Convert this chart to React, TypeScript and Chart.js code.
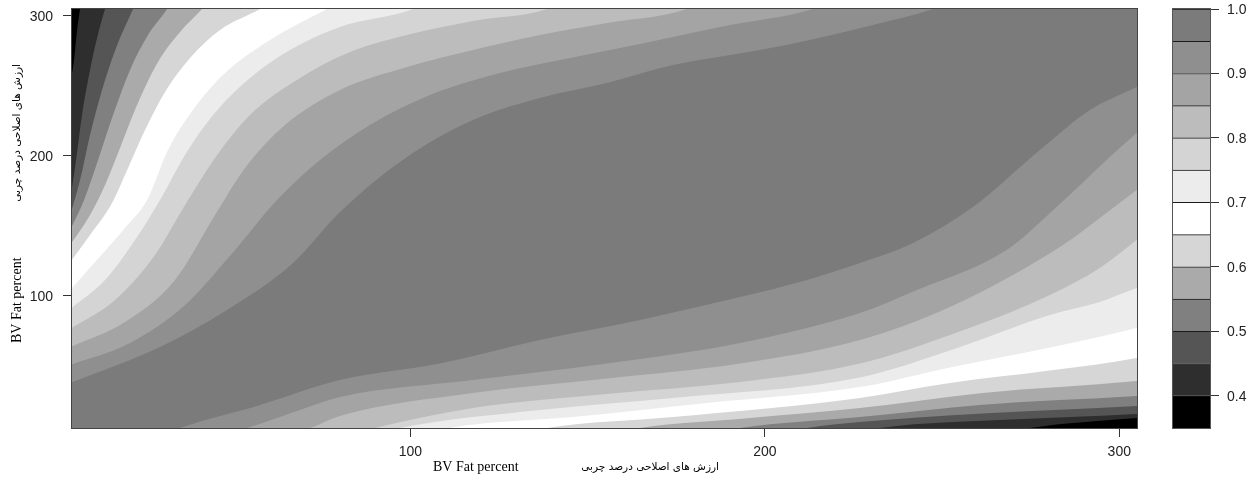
import React, { useEffect, useRef } from 'react';
import { Chart, registerables } from 'chart.js';

Chart.register(...registerables);

// contour levels and the gray of each band (band i lies between levels[i] and levels[i+1])
const levels = [0.35, 0.4, 0.45, 0.5, 0.55, 0.6, 0.65, 0.7, 0.75, 0.8, 0.85, 0.9, 0.95, 1.0];
const bandColors = ['#000000', '#2e2e2e', '#555555', '#808080', '#aaaaaa', '#d6d6d6', '#ffffff', '#ececec', '#d4d4d4', '#bcbcbc', '#a4a4a4', '#8f8f8f', '#7b7b7b'];

const xTicks = [100, 200, 300];
const yTicks = [100, 200, 300];
const barTicks = [0.4, 0.5, 0.6, 0.7, 0.8, 0.9, 1.0];

// contour lines on the upper-left side (value falls toward the top-left corner)
const upper95 = [[4, 37.5], [29.34, 63.2], [48.24, 89.6], [66.86, 123.2], [80.11, 159.6], [99.01, 198.9], [117.63, 225.4], [136.53, 241.1], [155.43, 251.8], [174.05, 264.6], [198.59, 275.4], [212.69, 282.5], [230.47, 293.2], [247.39, 304.6], [253.6, 311.1]];
const upper90 = [[4, 50.4], [20.87, 66.1], [36.4, 93.2], [50.49, 132.5], [62.34, 168.2], [74.47, 196.8], [88.58, 221.8], [105.5, 243.2], [125.25, 258.9], [145.0, 269.6], [164.74, 279.6], [187.31, 291.8], [213.54, 304.6], [219.75, 311.1]];
const upper85 = [[4, 63.2], [19.46, 81.1], [33.57, 111.1], [44.86, 157.5], [53.33, 191.1], [64.6, 221.8], [80.11, 246.8], [99.01, 263.2], [117.63, 275.4], [136.53, 286.1], [155.43, 294.6], [178.0, 304.6], [183.08, 311.1]];
const upper80 = [[4, 76.1], [16.64, 96.8], [27.92, 128.9], [36.4, 164.6], [44.86, 198.2], [54.72, 228.9], [68.83, 255.4], [82.93, 273.9], [99.01, 286.1], [117.63, 296.1], [138.51, 304.6], [143.58, 311.1]];
const upper75 = [[4, 90.4], [13.82, 111.1], [22.28, 139.6], [29.34, 168.2], [36.4, 200.4], [44.3, 228.9], [54.72, 255.4], [66.01, 275.4], [80.11, 291.8], [100.71, 304.6], [105.5, 311.1]];
const upper70 = [[4, 103.9], [11.0, 123.9], [19.46, 148.2], [25.67, 168.2], [31.59, 203.9], [39.22, 234.6], [47.69, 258.9], [60.37, 282.5], [76.45, 304.6], [81.52, 311.1]];
const upper65 = [[4, 123.9], [9.59, 143.2], [15.8, 166.1], [20.31, 191.1], [25.11, 218.2], [30.75, 245.4], [37.81, 269.6], [46.27, 289.6], [57.55, 304.6], [61.78, 311.1]];
const upper60 = [[4, 136.1], [9.59, 157.5], [13.82, 178.9], [18.05, 205.4], [22.85, 236.1], [28.77, 266.8], [34.98, 288.2], [41.19, 304.6], [43.45, 311.1]];
const upper55 = [[4, 146.8], [7.9, 168.2], [11.85, 196.8], [16.08, 228.9], [20.87, 261.1], [25.95, 286.1], [31.31, 304.6], [32.72, 311.1]];
const upper50 = [[4, 157.5], [6.77, 182.5], [9.59, 214.6], [12.98, 246.8], [16.93, 276.8], [21.72, 304.6], [22.85, 311.1]];
const upper45 = [[4, 168.2], [5.64, 196.8], [7.33, 228.9], [9.59, 261.1], [11.57, 283.9], [13.82, 304.6], [14.67, 311.1]];
const upper40 = [[4, 251.8], [5.08, 268.2], [5.78, 286.1], [6.77, 304.6], [7.33, 311.1]];

// contour lines on the lower-right side (value falls toward the bottom-right corner)
const lower95 = [[32.2, 2.5], [35.0, 5.4], [57.6, 21.8], [80.1, 39.6], [108.3, 51.4], [136.5, 68.2], [164.7, 82.5], [193.0, 98.9], [211.9, 111.1], [226.8, 123.2], [241.8, 137.5], [258.7, 163.2], [277.6, 203.9], [291.7, 232.5], [304.9, 248.9], [308.6, 253.9]];
const lower90 = [[49.1, 2.5], [53.9, 5.4], [68.8, 18.2], [80.1, 27.5], [117.6, 39.6], [155.4, 51.4], [193.0, 66.1], [226.8, 87.5], [242.9, 103.9], [268.2, 132.5], [282.3, 163.2], [296.4, 196.8], [304.9, 216.1], [308.6, 223.9]];
const lower85 = [[67.4, 2.5], [71.7, 5.4], [80.1, 14.0], [117.6, 30.4], [155.4, 40.7], [193.0, 51.4], [226.8, 68.2], [252.2, 91.8], [284.1, 136.1], [294.5, 155.4], [304.9, 175.4], [308.6, 182.5]];
const lower80 = [[85.8, 2.5], [90.0, 5.4], [117.6, 19.6], [155.4, 29.6], [193.0, 38.2], [226.8, 51.4], [252.2, 71.8], [280.4, 100.4], [294.5, 119.6], [304.9, 139.6], [308.6, 146.8]];
const lower75 = [[92.8, 2.5], [97.0, 5.4], [136.5, 18.2], [174.1, 26.8], [226.8, 41.4], [252.2, 60.7], [280.4, 86.1], [294.5, 95.4], [304.9, 105.4], [308.6, 108.2]];
const lower70 = [[106.9, 2.5], [111.1, 5.4], [145.8, 13.2], [183.6, 23.2], [226.8, 34.6], [252.2, 48.6], [280.4, 62.9], [304.9, 76.8], [308.6, 79.6]];
const lower65 = [[133.7, 2.5], [138.5, 5.4], [174.1, 13.2], [226.8, 26.8], [252.2, 37.5], [280.4, 46.4], [304.9, 55.4], [308.6, 57.6]];
const lower60 = [[159.1, 2.5], [164.7, 5.4], [195.8, 12.5], [226.8, 19.6], [261.5, 30.4], [304.9, 38.9], [308.6, 40.0]];
const lower55 = [[187.3, 2.5], [193.0, 5.4], [226.8, 13.2], [261.5, 22.0], [304.9, 28.2], [308.6, 28.9]];
const lower50 = [[207.1, 2.5], [211.9, 5.4], [226.8, 9.6], [261.5, 15.8], [304.9, 21.1], [308.6, 21.8]];
const lower45 = [[226.8, 2.5], [232.4, 5.4], [271.1, 11.6], [304.9, 15.4], [308.6, 16.0]];
const lower40 = [[269.1, 2.5], [274.8, 5.4], [304.9, 12.5], [308.6, 13.2]];

const titleLatin = 'BV Fat percent';
const titlePersian = 'ارزش های اصلاحی درصد چربی';

// [level, upper line, lower line]
const contourTable: [number, number[][], number[][]][] = [
  [0.95, upper95, lower95],
  [0.9, upper90, lower90],
  [0.85, upper85, lower85],
  [0.8, upper80, lower80],
  [0.75, upper75, lower75],
  [0.7, upper70, lower70],
  [0.65, upper65, lower65],
  [0.6, upper60, lower60],
  [0.55, upper55, lower55],
  [0.5, upper50, lower50],
  [0.45, upper45, lower45],
  [0.4, upper40, lower40],
];

const tickFont = { family: "'Liberation Sans', Arial, sans-serif", size: 14 };
const latinFont = "14px 'Liberation Serif', 'DejaVu Serif', serif";
const persianFont = "10.5px 'DejaVu Sans', 'Noto Sans', sans-serif";

const noScalePadding = (s: any) => {
  s.paddingTop = 0;
  s.paddingBottom = 0;
  s.paddingLeft = 0;
  s.paddingRight = 0;
};

const plotBackground = {
  id: 'plotBackground',
  beforeDatasetsDraw(chart: any) {
    const { ctx, chartArea: a } = chart;
    ctx.save();
    ctx.fillStyle = bandColors[bandColors.length - 1];
    ctx.fillRect(a.left, a.top, a.right - a.left, a.bottom - a.top);
    ctx.restore();
  },
};

const frame = (color: string) => ({
  id: 'frame',
  afterDatasetsDraw(chart: any) {
    const { ctx, chartArea: a } = chart;
    ctx.save();
    ctx.strokeStyle = color;
    ctx.lineWidth = 1;
    ctx.strokeRect(Math.round(a.left) - 0.5, Math.round(a.top) - 0.5, Math.round(a.right - a.left) + 1, Math.round(a.bottom - a.top) + 1);
    ctx.restore();
  },
});

// axis titles: latin part then persian part, as R draws "BV Fat percent   ارزش ..."
const axisTitles = {
  id: 'axisTitles',
  afterDraw(chart: any) {
    const { ctx } = chart;
    ctx.save();
    ctx.fillStyle = '#000';
    ctx.textBaseline = 'middle';
    ctx.font = latinFont;
    ctx.textAlign = 'left';
    ctx.fillText(titleLatin, 433, 467);
    ctx.font = persianFont;
    ctx.textAlign = 'right';
    ctx.fillText(titlePersian, 719, 467);
    ctx.save();
    ctx.translate(17, 343);
    ctx.rotate(-Math.PI / 2);
    ctx.font = latinFont;
    ctx.textAlign = 'left';
    ctx.fillText(titleLatin, 0, 0);
    ctx.restore();
    ctx.save();
    ctx.translate(17, 64);
    ctx.rotate(-Math.PI / 2);
    ctx.font = persianFont;
    ctx.textAlign = 'right';
    ctx.fillText(titlePersian, 0, 0);
    ctx.restore();
    ctx.restore();
  },
};

export default function App() {
  const mainRef = useRef<HTMLCanvasElement>(null);
  const barRef = useRef<HTMLCanvasElement>(null);

  useEffect(() => {
    const datasets: any[] = [];
    contourTable.forEach(([level, up, low]) => {
      const idx = levels.findIndex((l) => Math.abs(l - level) < 1e-9);
      const color = bandColors[idx - 1];
      const base = {
        borderColor: 'rgba(0,0,0,0)',
        borderWidth: 0,
        pointRadius: 0,
        backgroundColor: color,
        cubicInterpolationMode: 'monotone',
        order: idx,
      };
      datasets.push({ ...base, label: 'upper ' + level, data: up.map(([x, y]) => ({ x, y })), fill: 'end' });
      datasets.push({ ...base, label: 'lower ' + level, data: low.map(([x, y]) => ({ x, y })), fill: 'start' });
    });

    const main = new Chart(mainRef.current!, {
      type: 'line',
      data: { datasets },
      options: {
        responsive: false,
        animation: false,
        events: [],
        layout: { padding: { left: 0, top: 9, right: 121, bottom: 0 } },
        plugins: { legend: { display: false }, tooltip: { enabled: false }, filler: { propagate: false } },
        scales: {
          x: {
            type: 'linear',
            min: 4.5,
            max: 305,
            afterBuildTicks: (s: any) => { s.ticks = xTicks.map((v) => ({ value: v })); },
            afterFit: (s: any) => { s.height = 55; noScalePadding(s); },
            grid: { drawOnChartArea: false, drawTicks: true, tickLength: 9, color: '#333' },
            border: { display: false },
            ticks: { padding: 7, font: tickFont, color: '#222', maxRotation: 0, autoSkip: false },
          },
          y: {
            type: 'linear',
            min: 5.4,
            max: 304.6,
            afterBuildTicks: (s: any) => { s.ticks = yTicks.map((v) => ({ value: v })); },
            afterFit: (s: any) => { s.width = 72; noScalePadding(s); },
            grid: { drawOnChartArea: false, drawTicks: true, tickLength: 9, color: '#333' },
            border: { display: false },
            ticks: { padding: 10, labelOffset: 1.5, font: tickFont, color: '#222', autoSkip: false },
          },
        },
      } as any,
      plugins: [plotBackground, frame('#444'), axisTitles],
    });

    const bar = new Chart(barRef.current!, {
      type: 'bar',
      data: {
        labels: [''],
        datasets: bandColors.map((c, i) => ({
          label: levels[i] + '-' + levels[i + 1],
          data: [[levels[i], levels[i + 1]]],
          backgroundColor: c,
          borderColor: '#1a1a1a',
          borderWidth: { top: 1, left: 0, right: 0, bottom: 0 },
          borderSkipped: false,
          grouped: false,
          barPercentage: 1,
          categoryPercentage: 1,
        })),
      } as any,
      options: {
        responsive: false,
        animation: false,
        events: [],
        layout: { padding: { left: 33, top: 9, right: 0, bottom: 55 } },
        plugins: { legend: { display: false }, tooltip: { enabled: false } },
        scales: {
          x: { display: false },
          y: {
            position: 'right',
            min: 0.35,
            max: 1.0,
            afterBuildTicks: (s: any) => { s.ticks = barTicks.map((v) => ({ value: v })); },
            afterFit: (s: any) => { s.width = 48; noScalePadding(s); },
            grid: { drawOnChartArea: false, drawTicks: true, tickLength: 9, color: '#333' },
            border: { display: false },
            ticks: { padding: 8, labelOffset: 1, font: tickFont, color: '#222', callback: (v: any) => Number(v).toFixed(1) },
          },
        },
      } as any,
      plugins: [frame('#555')],
    });

    return () => {
      main.destroy();
      bar.destroy();
    };
  }, []);

  return (
    <div style={{ position: 'absolute', left: 0, top: 0, width: 1258, height: 483, background: '#fff' }}>
      <canvas ref={mainRef} width={1258} height={483} style={{ position: 'absolute', left: 0, top: 0, width: 1258, height: 483 }} />
      <canvas ref={barRef} width={118} height={483} style={{ position: 'absolute', left: 1140, top: 0, width: 118, height: 483 }} />
    </div>
  );
}
